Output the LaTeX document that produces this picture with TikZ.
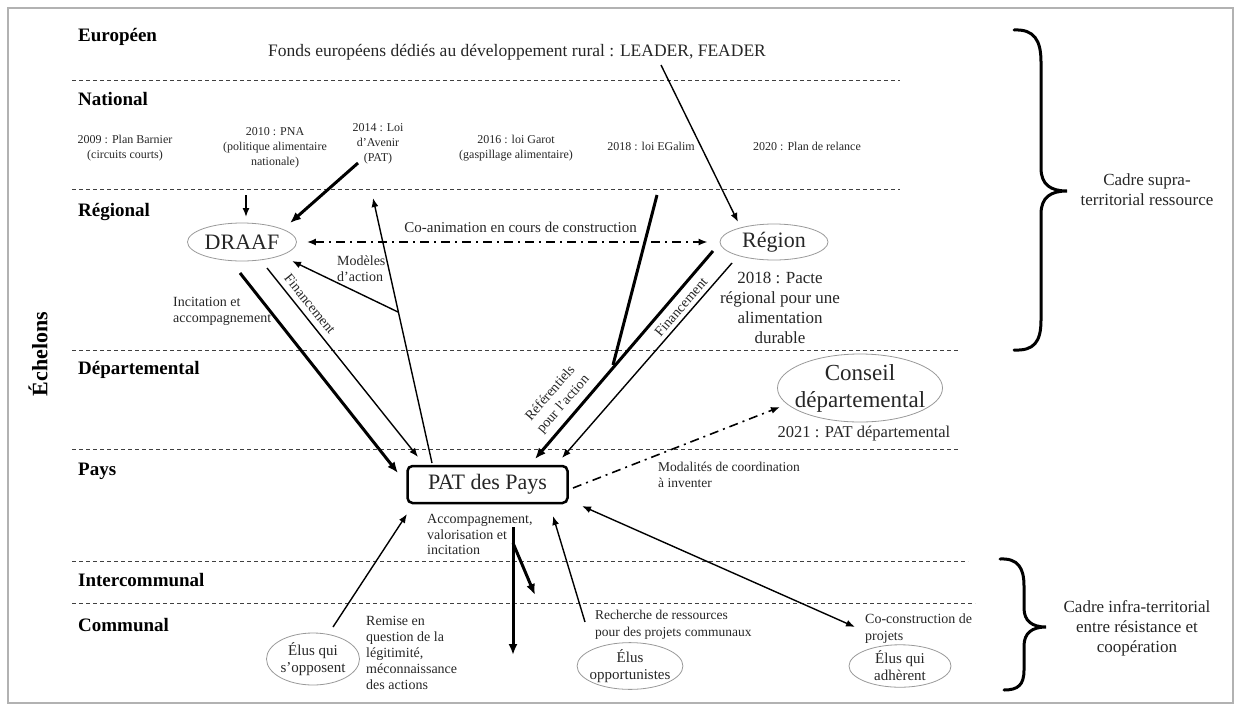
\documentclass[tikz,border=0pt]{standalone}
\usepackage{fontspec}
\setmainfont{Liberation Serif}
\usetikzlibrary{arrows.meta,shapes.geometric}
\newcommand\fsz[2]{\fontsize{#1}{#2}\selectfont}
\begin{document}
\begin{tikzpicture}[x=1pt,y=-1pt,
  lvl/.style={anchor=west,inner sep=0,font=\fsz{19}{22}\bfseries},
  sep/.style={line width=0.9pt,black!75,dash pattern=on 4pt off 3pt},
  nat/.style={align=center,inner sep=0,font=\fsz{12}{15},text=black!85},
  lab/.style={align=left,inner sep=0,font=\fsz{14}{16},text=black!85},
  actor/.style={ellipse,draw=black!40,line width=0.8pt,inner sep=0,font=\fsz{22}{26},text=black!85},
  elus/.style={ellipse,draw=black!40,line width=0.8pt,inner sep=0,inner xsep=-3pt,align=center,font=\fsz{15}{17},text=black!85},
  arrThin/.style={line width=1.4pt,-{Latex[length=9pt,width=7pt]}},
  arrThick/.style={line width=3pt,-{Latex[length=11pt,width=9pt]}},
  dashdot/.style={line width=1.6pt,dash pattern=on 9pt off 5pt on 2pt off 5pt},
  bracestyle/.style={line width=3pt,line cap=round}
]
\useasboundingbox (0,0) rectangle (1236,707);
\draw[black!30,line width=1.5pt] (8,8) rectangle (1233,703);

% level labels
\node[lvl] (eu) at (78,37) {Européen};
\node[lvl] (nat) at (78,99) {National};
\node[lvl] (reg) at (78,212) {Régional};
\node[lvl] (dep) at (78,370) {Départemental};
\node[lvl] (pays) at (78,471) {Pays};
\node[lvl] (inter) at (78,580) {Intercommunal};
\node[lvl] (com) at (78,625) {Communal};
\node[rotate=90,inner sep=0,font=\fsz{22}{26}\bfseries] (ech) at (38,354) {Échelons};

% separators
\draw[sep] (72,80) -- (900,80);
\draw[sep] (72,189) -- (900,189);
\draw[sep] (72,350) -- (958,350);
\draw[sep] (72,449) -- (958,449);
\draw[sep] (72,561) -- (968,561);
\draw[sep] (72,603) -- (975,603);

% european / national texts
\node[inner sep=0,font=\fsz{17.5}{20},text=black!85] (fonds) at (517,52) {Fonds européens dédiés au développement rural : LEADER, FEADER};
\node[nat] (n2009) at (125,148) {2009 : Plan Barnier\\(circuits courts)};
\node[nat] (n2010) at (275,148) {2010 : PNA\\(politique alimentaire\\nationale)};
\node[nat] (n2014) at (378,144) {2014 : Loi\\d’Avenir\\(PAT)};
\node[nat] (n2016) at (516,148) {2016 : loi Garot\\(gaspillage alimentaire)};
\node[nat] (n2018) at (651,146) {2018 : loi EGalim};
\node[nat] (n2020) at (807,146) {2020 : Plan de relance};

% actors
\node[actor,minimum width=109pt,minimum height=38pt] (draaf) at (242,242) {DRAAF};
\node[actor,minimum width=108pt,minimum height=36pt] (region) at (774,242) {Région};
\node[actor,minimum width=165pt,minimum height=68pt,inner xsep=-10pt,align=center,font=\fsz{23}{27}] (cd) at (860,388) {Conseil\\départemental};
\node[draw,line width=2.5pt,rounded corners=5pt,minimum width=160pt,minimum height=37pt,inner sep=0,font=\fsz{22}{26},text=black!85] (pat) at (487.5,484.5) {PAT des Pays};
\node[align=center,inner sep=0,font=\fsz{17}{20},text=black!85] (pacte) at (780,307.5) {2018 : Pacte\\régional pour une\\alimentation\\durable};
\node[inner sep=0,font=\fsz{16.5}{20},text=black!85] (pat21) at (864,434) {2021 : PAT départemental};

\node[elus,minimum width=93pt,minimum height=52pt] (eopp) at (313,659) {Élus qui\\s’opposent};
\node[elus,minimum width=105pt,minimum height=43pt] (eopt) at (630,666) {Élus\\opportunistes};
\node[elus,minimum width=102pt,minimum height=41pt] (eadh) at (900,666) {Élus qui\\adhèrent};

% labels
\node[lab,anchor=east] (lcoanim) at (637,227) {\fsz{15}{17}Co-animation en cours de construction};
\node[lab,anchor=west] (lmodeles) at (337,268.5) {Modèles\\d’action};
\node[lab,anchor=west] (lincit) at (173,311) {Incitation et\\accompagnement};
\node[lab,rotate=-51] (lfin1) at (310,304) {Financement};
\node[lab,rotate=49] (lfin2) at (681,307) {Financement};
\node[lab,rotate=49,align=center,font=\fsz{14}{17}] (lref) at (557,399) {Référentiels\\pour l’action};
\node[lab,anchor=west,font=\fsz{13.5}{16}] (lmodal) at (658,475) {Modalités de coordination\\à inventer};
\node[lab,anchor=west,font=\fsz{14}{15.5}] (laccomp) at (427,534.5) {Accompagnement,\\valorisation et\\incitation};
\node[lab,anchor=west,font=\fsz{14}{16}] (lremise) at (366,653) {Remise en\\question de la\\légitimité,\\méconnaissance\\des actions};
\node[lab,anchor=west,font=\fsz{13.5}{17}] (lrech) at (595,624.5) {Recherche de ressources\\pour des projets communaux};
\node[lab,anchor=west,font=\fsz{14}{17}] (lcoc) at (865,628.5) {Co-construction de\\projets};

\node[align=center,inner sep=0,font=\fsz{17}{20},text=black!85] (lsupra) at (1147,190) {Cadre supra-\\territorial ressource};
\node[align=center,inner sep=0,font=\fsz{17}{20},text=black!85] (linfra) at (1137,628) {Cadre infra-territorial\\entre résistance et\\coopération};

% coordinates
\coordinate (draafIn) at (246,195);
\coordinate (draafInEnd) at (246,217);
\coordinate (loiStart) at (358,163);
\coordinate (draafNE) at (290,223);
\coordinate (draafSE) at (292,261);
\coordinate (natUp) at (373,198);
\coordinate (patTopA) at (432,463);
\coordinate (branch) at (398,312);
\coordinate (incitStart) at (240,273);
\coordinate (patLeft) at (398,473);
\coordinate (fin1Start) at (267,268);
\coordinate (patTL) at (418,457);
\coordinate (leaderStart) at (661,65);
\coordinate (regionNW) at (738,222);
\coordinate (egalimStart) at (657,195);
\coordinate (junction) at (613,365);
\coordinate (regThickStart) at (713,251);
\coordinate (patTR1) at (535,459);
\coordinate (regThinStart) at (732,263);
\coordinate (patTR2) at (562,458);
\coordinate (patE) at (573,488);
\coordinate (cdW) at (780,407);
\coordinate (eoppTop) at (333,627);
\coordinate (patBL) at (407,514);
\coordinate (rechStart) at (585,622);
\coordinate (patBR) at (553,516);
\coordinate (patBRR) at (582,506);
\coordinate (cocEnd) at (855,627);
\coordinate (downStart) at (513,527);
\coordinate (downEnd) at (513,655);
\coordinate (downBranch) at (513,543);
\coordinate (downBranchEnd) at (535,595);

% connectors
\draw[arrThin] (draafIn) -- (draafInEnd);
\draw[arrThick] (loiStart) -- (draafNE);
\draw[dashdot,{Latex[length=9pt,width=7pt]}-{Latex[length=9pt,width=7pt]}] ([xshift=10pt]draaf.east) -- ([xshift=-12pt]region.west);
\draw[arrThin] (patTopA) -- (natUp);
\draw[arrThin] (branch) -- (draafSE);
\draw[arrThick] (incitStart) -- (patLeft);
\draw[arrThin] (fin1Start) -- (patTL);
\draw[arrThin] (leaderStart) -- (regionNW);
\draw[line width=3pt] (egalimStart) -- (junction);
\draw[arrThick] (regThickStart) -- (patTR1);
\draw[arrThin] (regThinStart) -- (patTR2);
\draw[dashdot,-{Latex[length=9pt,width=7pt]}] (patE) -- (cdW);
\draw[arrThin] (eoppTop) -- (patBL);
\draw[arrThin] (rechStart) -- (patBR);
\draw[line width=1.4pt,{Latex[length=9pt,width=7pt]}-{Latex[length=9pt,width=7pt]}] (patBRR) -- (cocEnd);
\draw[arrThick] (downStart) -- (downEnd);
\draw[arrThick] (downBranch) -- (downBranchEnd);

% braces
\draw[bracestyle] (1014,30) .. controls (1034,29) and (1041,40) .. (1041,62) -- (1041,168) .. controls (1041,185) and (1051,191) .. (1067,191) .. controls (1051,191) and (1041,197) .. (1041,214) -- (1041,320) .. controls (1041,342) and (1034,351) .. (1014,350);
\draw[bracestyle] (1000,559) .. controls (1018,558) and (1024,568) .. (1024,586) -- (1024,608) .. controls (1024,621) and (1032,627) .. (1046,627) .. controls (1032,627) and (1024,633) .. (1024,646) -- (1024,670) .. controls (1024,685) and (1018,690) .. (1004,690);
\end{tikzpicture}
\end{document}
